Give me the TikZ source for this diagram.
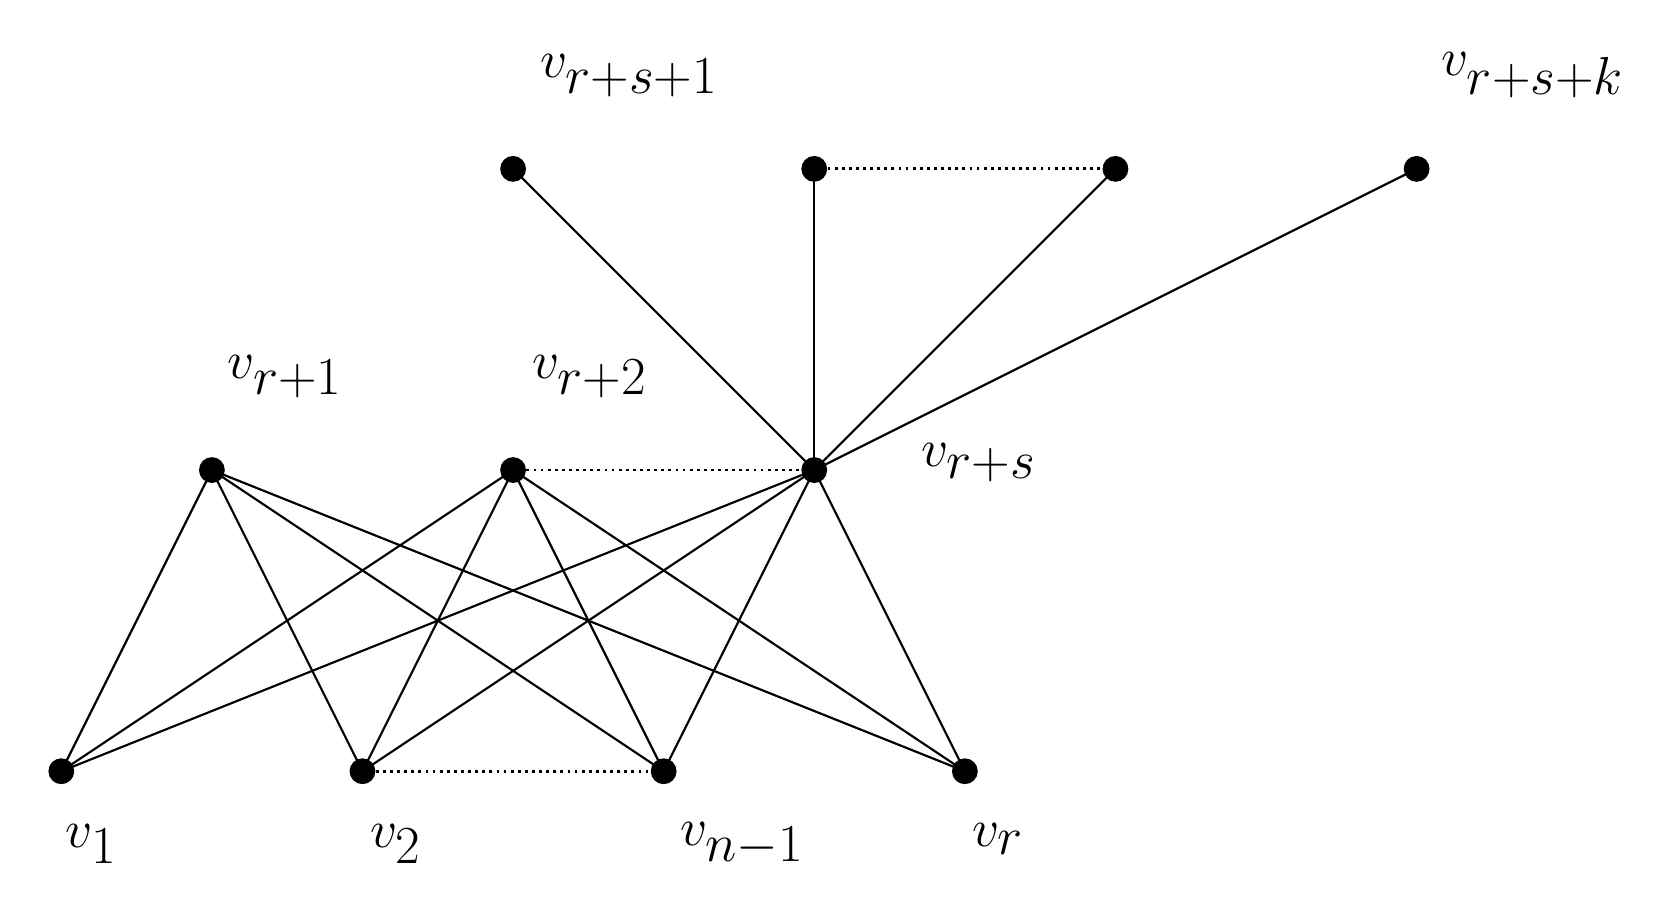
\documentclass[tikz,border=0pt]{standalone}
\begin{document}
\begin{tikzpicture}[x=0.5pt,y=-0.5pt,
  dot/.style={circle,fill=black,inner sep=0pt,minimum size=12pt},
  lab/.style={font=\fontsize{38}{44}\selectfont},
  e/.style={line width=1pt},
  d/.style={line width=1.3pt,dotted}]
\useasboundingbox (0,0) rectangle (1560,851);
\node[dot] (a1) at (57,717) {};
\node[dot] (a2) at (337,717) {};
\node[dot] (a3) at (617,717) {};
\node[dot] (a4) at (897,717) {};
\node[dot] (b1) at (197,437) {};
\node[dot] (b2) at (477,437) {};
\node[dot] (b3) at (757,437) {};
\node[dot] (c1) at (477,157) {};
\node[dot] (c2) at (757,157) {};
\node[dot] (c3) at (1037,157) {};
\node[dot] (c4) at (1317,157) {};
\node[lab] (l1) at (85,785) {$v_1$};
\node[lab] (l2) at (368,785) {$v_2$};
\node[lab] (l3) at (690,785) {$v_{n-1}$};
\node[lab] (l4) at (928,780) {$v_r$};
\node[lab] (l5) at (265,350) {$v_{r+1}$};
\node[lab] (l6) at (548,350) {$v_{r+2}$};
\node[lab] (l7) at (910,430) {$v_{r+s}$};
\node[lab] (l8) at (585,70) {$v_{r+s+1}$};
\node[lab] (l9) at (1425,70) {$v_{r+s+k}$};
\foreach \m in {b1,b2,b3}{\foreach \n in {a1,a2,a3,a4}{\draw[e] (\m.center) -- (\n.center);}}
\foreach \n in {c1,c2,c3,c4}{\draw[e] (b3.center) -- (\n.center);}
\draw[d] (a2) -- (a3);
\draw[d] (b2) -- (b3);
\draw[d] (c2) -- (c3);
\end{tikzpicture}
\end{document}
